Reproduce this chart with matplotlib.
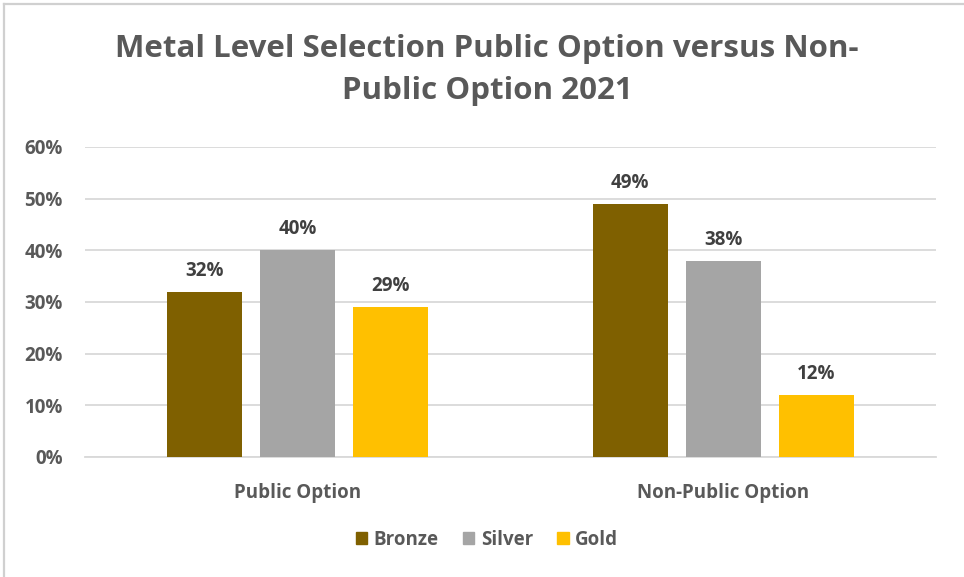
import matplotlib
matplotlib.use("Agg")
import matplotlib.pyplot as plt
from matplotlib.patches import Rectangle
from matplotlib.lines import Line2D
import numpy as np

plt.rcParams['font.family'] = ['Open Sans', 'DejaVu Sans']

categories = ["Public Option", "Non-Public Option"]
series_names = ["Bronze", "Silver", "Gold"]
bronze = [0.32, 0.49]
silver = [0.40, 0.38]
gold = [0.29, 0.12]
series_values = [bronze, silver, gold]
colors = ["#7F6000", "#A5A5A5", "#FFC000"]
y_ticks = [0.0, 0.1, 0.2, 0.3, 0.4, 0.5, 0.6]
y_tick_labels = ["0%", "10%", "20%", "30%", "40%", "50%", "60%"]
title = "Metal Level Selection Public Option versus Non-\nPublic Option 2021"

W, H = 964, 577
fig = plt.figure(figsize=(W / 100, H / 100), dpi=100)
fig.patch.set_facecolor("white")

# chart frame (left and top edges)
fig.add_artist(Line2D([3.5 / W, 3.5 / W], [0, 1 - 3.5 / H], transform=fig.transFigure,
                      color="#D0D0D0", lw=1.6))
fig.add_artist(Line2D([3.5 / W, 1], [1 - 3.5 / H, 1 - 3.5 / H], transform=fig.transFigure,
                      color="#D0D0D0", lw=1.6))

ax = fig.add_axes([85 / W, 1 - 457 / H, (936 - 85) / W, (457 - 147) / H])
ax.set_xlim(-0.5, 1.5)
ax.set_ylim(0, 0.6)

x = np.arange(len(categories))
width = 0.176
offsets = [-0.219, 0.0, 0.219]
text_dark = "#404040"
text_gray = "#595959"
fs = 13.5

for vals, off, col in zip(series_values, offsets, colors):
    bars = ax.bar(x + off, vals, width=width, color=col, zorder=3)
    for b, v in zip(bars, vals):
        ax.annotate(f"{v:.0%}", (b.get_x() + b.get_width() / 2, v),
                    xytext=(0, 8), textcoords="offset points",
                    ha="center", va="bottom", fontsize=fs, fontweight="bold",
                    color=text_dark)

ax.set_yticks(y_ticks)
ax.set_yticklabels(y_tick_labels)
ax.set_xticks(x)
ax.set_xticklabels(categories)
ax.tick_params(axis="y", length=0, pad=16, labelsize=fs, labelcolor=text_gray)
ax.tick_params(axis="x", length=0, pad=19, labelsize=fs, labelcolor=text_gray)
for lbl in ax.get_yticklabels() + ax.get_xticklabels():
    lbl.set_fontweight("bold")

ax.grid(axis="y", color="#D9D9D9", lw=1.3, zorder=0)
ax.set_axisbelow(True)
for s in ["top", "right", "left"]:
    ax.spines[s].set_visible(False)
ax.spines["bottom"].set_color("#D9D9D9")
ax.spines["bottom"].set_linewidth(1.3)

fig.text(487 / W, 1 - 70 / H, title, ha="center", va="center", fontsize=22.5,
         fontweight="bold", color=text_gray, linespacing=1.5)

handles = [Rectangle((0, 0), 1, 1, color=c) for c in colors]
leg = fig.legend(handles, series_names, loc="center", bbox_to_anchor=(487 / W, 1 - 540 / H),
                 ncol=3, frameon=False, handlelength=0.6, handleheight=0.6,
                 handletextpad=0.35, columnspacing=1.3,
                 prop={"size": fs, "weight": "bold"})
for t in leg.get_texts():
    t.set_color(text_gray)

fig.savefig("out.png", dpi=100, facecolor="white")
